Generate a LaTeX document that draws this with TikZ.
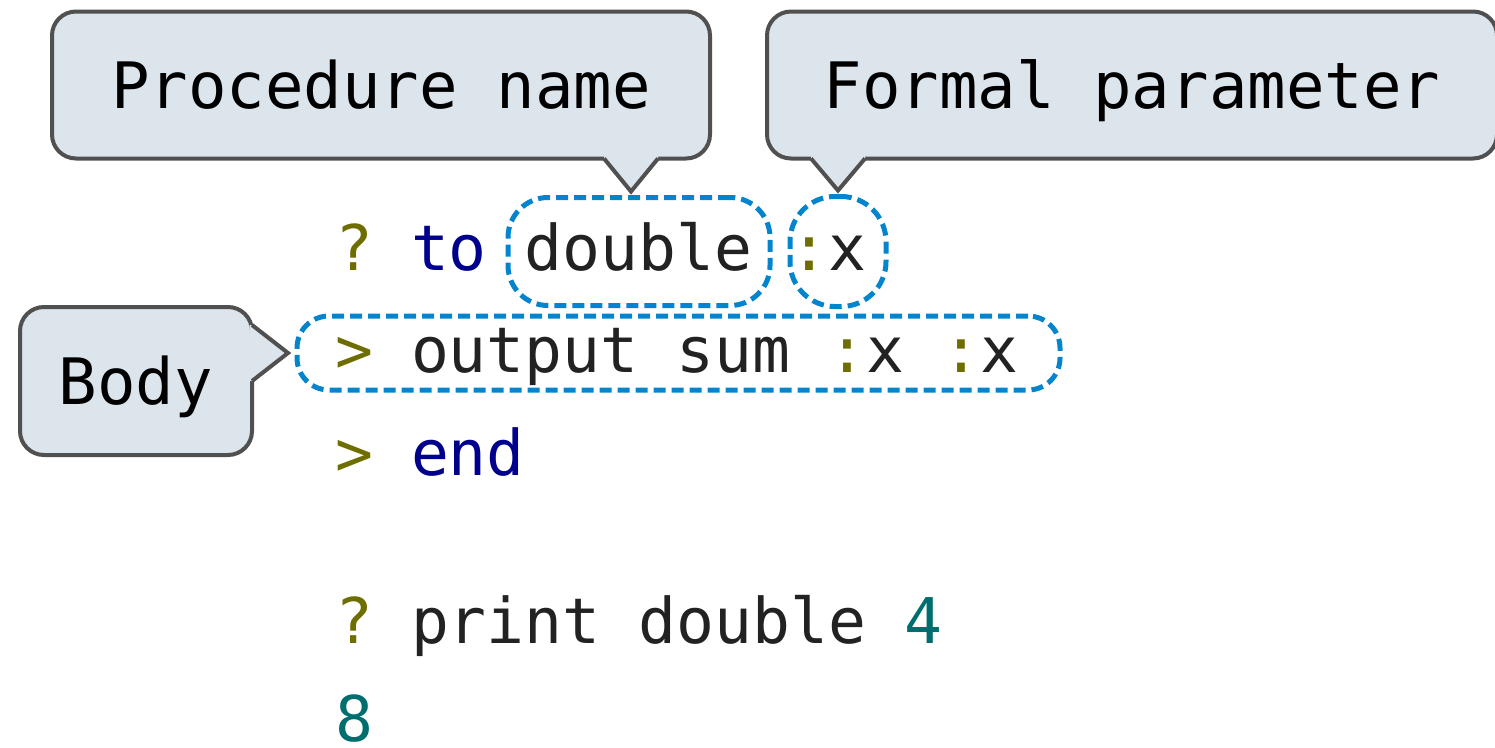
\documentclass[tikz,border=0pt]{standalone}
\usepackage{fontspec}
\setmonofont{DejaVu Sans Mono}
\definecolor{bubblefill}{RGB}{220,228,236}
\definecolor{bubbleline}{RGB}{80,80,80}
\definecolor{holeblue}{RGB}{5,132,206}
\definecolor{promptcol}{RGB}{110,110,0}
\definecolor{keycol}{RGB}{0,0,140}
\definecolor{numcol}{RGB}{0,110,110}
\definecolor{codetext}{RGB}{34,34,34}
\newcommand{\tokp}[1]{\textcolor{promptcol}{#1}}
\newcommand{\tokk}[1]{\textcolor{keycol}{#1}}
\newcommand{\tokn}[1]{\textcolor{numcol}{#1}}
\begin{document}
\begin{tikzpicture}
        [x=1pt, y=-1pt,
         bubble/.style={draw=bubbleline, fill=bubblefill, line width=4pt,
           rounded corners=24pt, inner sep=0pt, outer sep=0pt, text height=46pt, text depth=0pt,
           font=\ttfamily\fontsize{64}{76}\selectfont},
         tail/.style={draw=bubbleline, line width=4pt, line join=miter},
         hole/.style={draw=holeblue, line width=5pt, dash pattern=on 12pt off 6pt,
           inner sep=0pt, outer sep=0pt},
         code/.style={anchor=base west, inner sep=0pt, text=codetext,
           font=\ttfamily\fontsize{63}{76}\selectfont}]
        \useasboundingbox (0,0) rectangle (1495,747);
        \clip (0,0) rectangle (1495,747);
        % the code
        \node[code] (line1) at (335,270) {\tokp{?} \tokk{to} double \tokp{:}x};
        \node[code] (line2) at (335,372) {\tokp{>} output sum \tokp{:}x \tokp{:}x};
        \node[code] (line3) at (335,475) {\tokp{>} \tokk{end}};
        \node[code] (line5) at (335,643) {\tokp{?} print double \tokn{4}};
        \node[code] (line6) at (335,741) {\tokn{8}};
        % dashed outlines
        \node[hole, rounded corners=40pt, minimum width=262pt, minimum height=108pt] (dbl) at (639,251.5) {};
        \node[hole, rounded corners=45pt, minimum width=96pt, minimum height=110pt] (arg) at (838,251.5) {};
        \node[hole, rounded corners=32pt, minimum width=763pt, minimum height=74pt] (bodybox) at (678.5,353) {};
        % callouts
        \node[bubble, minimum width=658pt, minimum height=147pt] (name) at (381,85) {Procedure name};
        \node[bubble, minimum width=730pt, minimum height=147pt] (param) at (1132,85) {Formal parameter};
        \node[bubble, minimum width=232pt, minimum height=148pt] (body) at (136,381) {Body};
        \coordinate (nametip) at ([xshift=-8pt,yshift=6pt]dbl.north);
        \coordinate (paramtip) at ([yshift=6pt]arg.north);
        \coordinate (bodytip) at ([xshift=-9pt]bodybox.west);
        \fill[bubblefill] ([xshift=-27pt,yshift=2.5pt]nametip |- name.south) -- ([xshift=-27pt]nametip |- name.south)
          -- (nametip) -- ([xshift=27pt]nametip |- name.south) -- ([xshift=27pt,yshift=2.5pt]nametip |- name.south) -- cycle;
        \draw[tail] ([xshift=-27pt]nametip |- name.south) -- (nametip) -- ([xshift=27pt]nametip |- name.south);
        \fill[bubblefill] ([xshift=-27pt,yshift=2.5pt]paramtip |- param.south) -- ([xshift=-27pt]paramtip |- param.south)
          -- (paramtip) -- ([xshift=27pt]paramtip |- param.south) -- ([xshift=27pt,yshift=2.5pt]paramtip |- param.south) -- cycle;
        \draw[tail] ([xshift=-27pt]paramtip |- param.south) -- (paramtip) -- ([xshift=27pt]paramtip |- param.south);
        \fill[bubblefill] ([xshift=-2.5pt,yshift=28pt]body.east |- bodytip) -- ([yshift=28pt]body.east |- bodytip)
          -- (bodytip) -- ([yshift=-28pt]body.east |- bodytip) -- ([xshift=-2.5pt,yshift=-28pt]body.east |- bodytip) -- cycle;
        \draw[tail] ([yshift=28pt]body.east |- bodytip) -- (bodytip) -- ([yshift=-28pt]body.east |- bodytip);
    \end{tikzpicture}
\end{document}
